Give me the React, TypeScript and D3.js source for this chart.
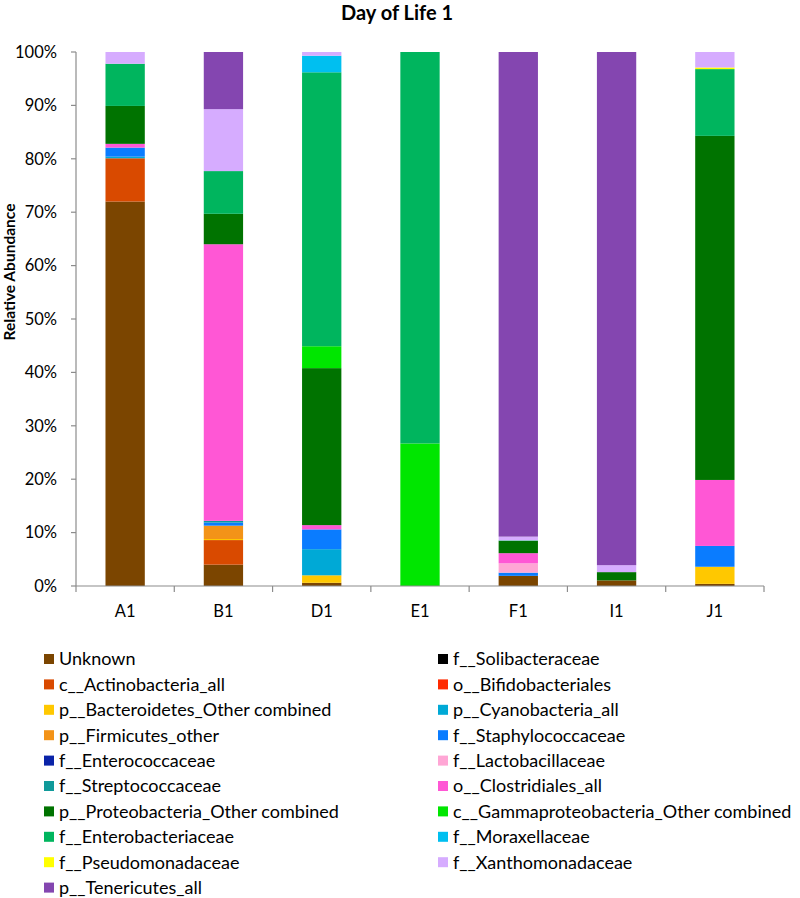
import React from 'react';
import * as d3 from 'd3';

const samples = ['A1', 'B1', 'D1', 'E1', 'F1', 'I1', 'J1'];

// relative abundance (%) per taxon, in sample order
const unknown = [72, 4.0, 0.6, 0, 1.9, 1.05, 0.4];
const solibacteraceae = [0, 0, 0, 0, 0, 0, 0];
const actinobacteria = [8.1, 4.6, 0, 0, 0, 0, 0];
const bifidobacteriales = [0, 0, 0, 0, 0, 0, 0];
const bacteroidetes = [0, 0.2, 1.4, 0, 0, 0, 3.2];
const cyanobacteria = [0.3, 0, 4.9, 0, 0, 0, 0];
const firmicutes = [0, 2.5, 0, 0, 0, 0, 0];
const staphylococcaceae = [1.7, 0.6, 3.7, 0, 0.6, 0, 3.9];
const enterococcaceae = [0, 0, 0, 0, 0, 0, 0];
const lactobacillaceae = [0, 0, 0, 0, 1.75, 0, 0];
const streptococcaceae = [0, 0.3, 0, 0, 0, 0, 0];
const clostridiales = [0.7, 51.8, 0.8, 0, 1.9, 0, 12.35];
const proteobacteria = [7.1, 5.7, 29.4, 0, 2.3, 1.55, 64.4];
const gammaproteobacteria = [0, 0, 4.1, 26.7, 0, 0, 0];
const enterobacteriaceae = [7.9, 8.0, 51.3, 73.3, 0.1, 0, 12.5];
const moraxellaceae = [0, 0, 3.1, 0, 0, 0, 0];
const pseudomonadaceae = [0, 0, 0, 0, 0, 0, 0.3];
const xanthomonadaceae = [2.2, 11.6, 0.7, 0, 0.7, 1.3, 2.9];
const tenericutes = [0, 10.7, 0, 0, 90.8, 96.1, 0];

const series = [
  { name: 'Unknown', color: '#7b4500', values: unknown },
  { name: 'f__Solibacteraceae', color: '#000000', values: solibacteraceae },
  { name: 'c__Actinobacteria_all', color: '#d94a00', values: actinobacteria },
  { name: 'o__Bifidobacteriales', color: '#ff2a00', values: bifidobacteriales },
  { name: 'p__Bacteroidetes_Other combined', color: '#ffc800', values: bacteroidetes },
  { name: 'p__Cyanobacteria_all', color: '#00a9d6', values: cyanobacteria },
  { name: 'p__Firmicutes_other', color: '#f39318', values: firmicutes },
  { name: 'f__Staphylococcaceae', color: '#0a7cff', values: staphylococcaceae },
  { name: 'f__Enterococcaceae', color: '#0a23a8', values: enterococcaceae },
  { name: 'f__Lactobacillaceae', color: '#ffa6d5', values: lactobacillaceae },
  { name: 'f__Streptococcaceae', color: '#109a9a', values: streptococcaceae },
  { name: 'o__Clostridiales_all', color: '#ff57d5', values: clostridiales },
  { name: 'p__Proteobacteria_Other combined', color: '#007300', values: proteobacteria },
  { name: 'c__Gammaproteobacteria_Other combined', color: '#00e600', values: gammaproteobacteria },
  { name: 'f__Enterobacteriaceae', color: '#00b55e', values: enterobacteriaceae },
  { name: 'f__Moraxellaceae', color: '#00bff0', values: moraxellaceae },
  { name: 'f__Pseudomonadaceae', color: '#ffff00', values: pseudomonadaceae },
  { name: 'f__Xanthomonadaceae', color: '#d6acff', values: xanthomonadaceae },
  { name: 'p__Tenericutes_all', color: '#8446b0', values: tenericutes },
];

const yTicks = [0, 10, 20, 30, 40, 50, 60, 70, 80, 90, 100];

const font = 'Lato, "Open Sans", sans-serif';

export default function App() {
  const left = 76, right = 764, top = 52, bottom = 586;

  const x = d3.scaleBand().domain(samples).range([left, right]).paddingInner(0.6).paddingOuter(0.3);
  const y = d3.scaleLinear().domain([0, 100]).range([bottom, top]);

  const rows = samples.map((s, i) => {
    const r: any = { sample: s };
    series.forEach(se => { r[se.name] = se.values[i]; });
    return r;
  });
  const stacked = d3.stack().keys(series.map(s => s.name)).offset(d3.stackOffsetExpand)(rows);

  const step = (right - left) / samples.length;
  const xTicks = d3.range(samples.length + 1).map(i => left + i * step);

  return (
    <svg width={800} height={898} style={{ position: 'absolute', left: 0, top: 0, background: '#fff' }} fontFamily={font}>
      <text x={397} y={20} textAnchor="middle" fontSize={20} fontWeight="bold">Day of Life 1</text>
      <text transform={`translate(15,272) rotate(-90)`} textAnchor="middle" fontSize={15.5} fontWeight="bold">Relative Abundance</text>

      {stacked.map((layer, li) => (
        <g key={layer.key} fill={series[li].color}>
          {layer.map((d, i) => {
            const h = y(d[0] * 100) - y(d[1] * 100);
            if (h <= 0) return null;
            return <rect key={i} x={x(samples[i])} width={x.bandwidth()} y={y(d[1] * 100)} height={h} />;
          })}
        </g>
      ))}

      <g stroke="#8c8c8c" strokeWidth={1.2}>
        <line x1={left} x2={left} y1={top} y2={bottom} />
        {yTicks.map(t => <line key={t} x1={left - 5} x2={left} y1={y(t)} y2={y(t)} />)}
        <line x1={left} x2={right} y1={bottom} y2={bottom} />
        {xTicks.map((t, i) => <line key={i} x1={t} x2={t} y1={bottom} y2={bottom + 6} />)}
      </g>
      {yTicks.map(t => (
        <text key={t} x={57} y={y(t)} dy="0.35em" textAnchor="end" fontSize={16.5}>{t}%</text>
      ))}
      {samples.map(s => (
        <text key={s} x={(x(s) as number) + x.bandwidth() / 2} y={611} dy="0.35em" textAnchor="middle" fontSize={16.5}>{s}</text>
      ))}

      {series.map((s, i) => {
        const col = i % 2, row = Math.floor(i / 2);
        const cy = 659 + row * 25.4;
        const sx = col === 0 ? 44 : 438;
        return (
          <g key={s.name}>
            <rect x={sx} y={cy - 5} width={10} height={10} fill={s.color} />
            <text x={sx + 15} y={cy} dy="0.35em" fontSize={18}>{s.name}</text>
          </g>
        );
      })}
    </svg>
  );
}
